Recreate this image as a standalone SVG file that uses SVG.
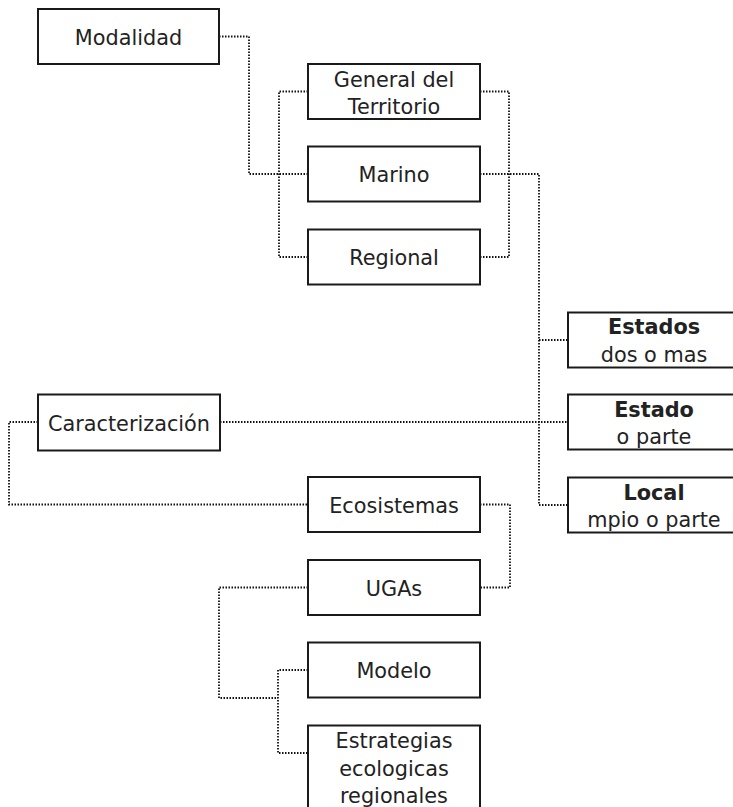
<svg xmlns="http://www.w3.org/2000/svg" width="733" height="807" viewBox="0 0 733 807">
<style>
.box{fill:#fff;stroke:#1a1a1a;stroke-width:2}
.t{font-family:"DejaVu Sans",Verdana,sans-serif;font-size:20.8px;fill:#222;text-anchor:middle}
.b{font-weight:bold}
.c{fill:none;stroke:#111;stroke-width:1.8;stroke-dasharray:1.5 1.5}
</style>
<rect width="733" height="807" fill="#fff"/>
<g id="connectors">
<path class="c" d="M219,36.5 H249 V174 H308"/>
<path class="c" d="M308,91.5 H279 V257 H308"/>
<path class="c" d="M480,91.5 H509 V257 H480"/>
<path class="c" d="M480,174 H539 V505 H568"/>
<path class="c" d="M539,340 H568"/>
<path class="c" d="M220,422 H568"/>
<path class="c" d="M38,422 H9 V504.5 H308"/>
<path class="c" d="M480,504.5 H510 V587.5 H480"/>
<path class="c" d="M308,587.5 H219 V698 H278"/>
<path class="c" d="M308,670 H278 V753 H308"/>
</g>
<g id="modalidad"><rect class="box" x="38" y="9" width="181" height="55"/><text class="t" x="128.5" y="44.5">Modalidad</text></g>
<g id="general"><rect class="box" x="308" y="64" width="172" height="55"/><text class="t" x="394" y="86.5">General del</text><text class="t" x="394" y="113.5">Territorio</text></g>
<g id="marino"><rect class="box" x="308" y="146.5" width="172" height="55"/><text class="t" x="394" y="182">Marino</text></g>
<g id="regional"><rect class="box" x="308" y="229.5" width="172" height="55"/><text class="t" x="394" y="265">Regional</text></g>
<g id="estados"><rect class="box" x="568" y="312.5" width="172" height="55"/><text class="t b" x="654" y="334">Estados</text><text class="t" x="654" y="361.5">dos o mas</text></g>
<g id="estado"><rect class="box" x="568" y="394.5" width="172" height="55"/><text class="t b" x="654" y="416.5">Estado</text><text class="t" x="654" y="444">o parte</text></g>
<g id="local"><rect class="box" x="568" y="477.5" width="172" height="55"/><text class="t b" x="654" y="499.5">Local</text><text class="t" x="654" y="527">mpio o parte</text></g>
<g id="caracterizacion"><rect class="box" x="38" y="394.5" width="182" height="56"/><text class="t" x="129" y="430.5">Caracterización</text></g>
<g id="ecosistemas"><rect class="box" x="308" y="477" width="172" height="55"/><text class="t" x="394" y="512.5">Ecosistemas</text></g>
<g id="ugas"><rect class="box" x="308" y="560" width="172" height="55"/><text class="t" x="394" y="595.5">UGAs</text></g>
<g id="modelo"><rect class="box" x="308" y="642.5" width="172" height="55"/><text class="t" x="394" y="678">Modelo</text></g>
<g id="estrategias"><rect class="box" x="308" y="725.5" width="172" height="90"/><text class="t" x="394" y="748">Estrategias</text><text class="t" x="394" y="775.5">ecologicas</text><text class="t" x="394" y="802.5">regionales</text></g>
</svg>
